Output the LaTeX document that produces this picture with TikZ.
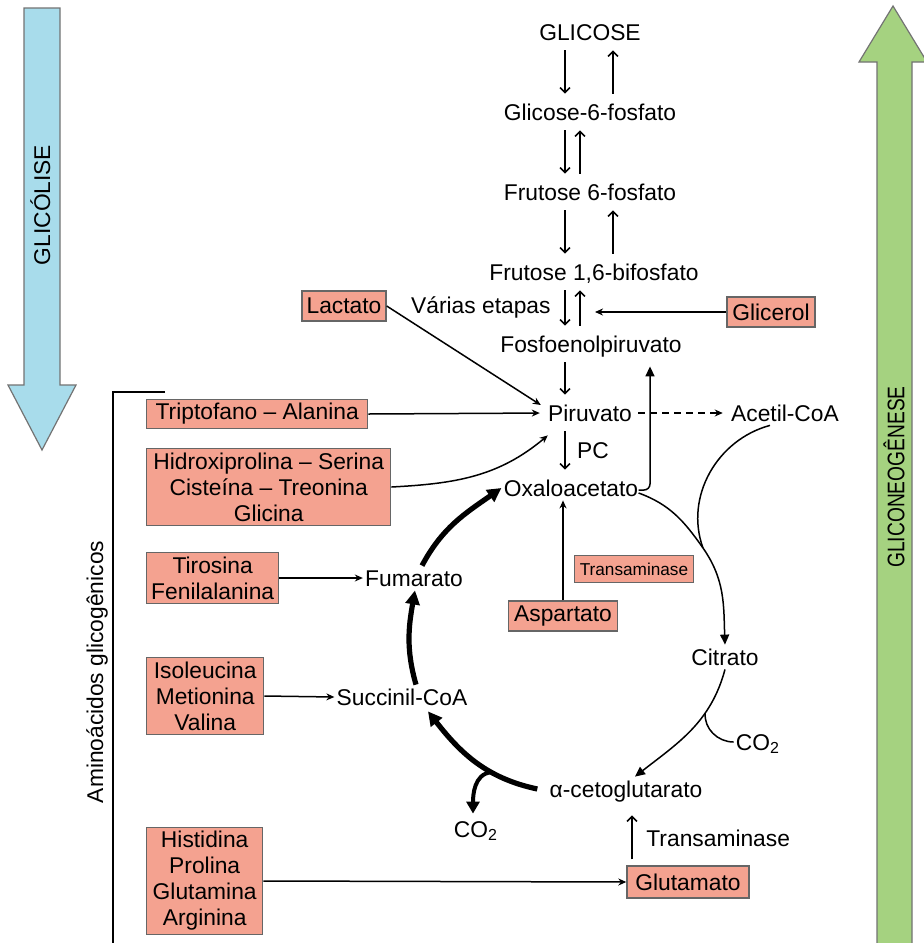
\documentclass[tikz,border=0pt]{standalone}
\usepackage{fontspec}
\setmainfont{Liberation Sans}
\newfontfamily\narrowsans[FakeStretch=0.8]{Liberation Sans}
\usetikzlibrary{arrows.meta,calc}

\definecolor{aafill}{HTML}{F4A290}
\definecolor{glyblue}{HTML}{A8DCEB}
\definecolor{neogreen}{HTML}{A5D280}

\tikzset{
  met/.style={font=\fontsize{11.4}{13}\selectfont,inner sep=1pt,text height=9pt,text depth=1pt},
  aabox/.style={draw=black!60,fill=aafill,line width=0.7pt,align=center,
    font=\fontsize{11.4}{13}\selectfont,inner xsep=2pt,inner ysep=2pt,minimum height=15pt},
  rxn/.style={line width=0.75pt,-{Stealth[length=4pt,width=3.5pt]}},
  rxnbig/.style={line width=0.75pt,-{Triangle[length=5pt,width=4.5pt]}},
  glyc/.style={line width=0.75pt,-{Straight Barb[length=2.5pt,width=5pt]},shorten <=3pt,shorten >=3pt},
  krebs/.style={line width=2.6pt,-{Triangle[length=7pt,width=7pt]}},
  bigarrow/.style={draw=black!55,line width=0.6pt}
}

\begin{document}
\begin{tikzpicture}[x=0.5pt,y=0.5pt,>=Stealth]
  \useasboundingbox[fill=white] (0,0) rectangle (923,-943);

  % side arrows
  \draw[bigarrow,fill=glyblue] (24,-8) -- (60,-8) -- (60,-385) -- (76,-385) -- (42,-450)
    -- (8,-385) -- (24,-385) -- cycle;
  \node[met,rotate=90] (glicolise) at (42,-205) {GLICÓLISE};
  \draw[bigarrow,fill=neogreen] (877,-950) -- (877,-62) -- (859,-62) -- (893,-6)
    -- (927,-62) -- (912,-62) -- (912,-950) -- cycle;
  \node[rotate=90,font=\narrowsans\fontsize{12}{14}\selectfont] (neolabel) at (894,-477) {GLICONEOGÊNESE};

  % metabolites
  \node[met] (glc) at (590,-32) {GLICOSE};
  \node[met] (g6p) at (590,-112) {Glicose-6-fosfato};
  \node[met] (f6p) at (590,-192) {Frutose 6-fosfato};
  \node[met] (f16) at (594,-272) {Frutose 1,6-bifosfato};
  \node[met] (pep) at (591,-344) {Fosfoenolpiruvato};
  \node[met,anchor=east] (varias) at (553,-305) {Várias etapas};
  \node[met] (pir) at (590,-413) {Piruvato};
  \node[met] (acoa) at (785,-413) {Acetil-CoA};
  \node[met] (pc) at (593,-450) {PC};
  \node[met] (oaa) at (571,-488) {Oxaloacetato};
  \node[met] (fum) at (414,-578) {Fumarato};
  \node[met] (scoa) at (402,-697) {Succinil-CoA};
  \node[met] (cit) at (725,-657) {Citrato};
  \node[met] (akg) at (626,-789) {α-cetoglutarato};
  \node[met] (co2cit) at (758,-742) {CO\textsubscript{2}};
  \node[met] (co2akg) at (476,-829) {CO\textsubscript{2}};
  \node[met,anchor=west] (transglu) at (644,-838) {Transaminase};

  % precursors
  \node[aabox,minimum width=42pt] (lac) at (344,-306) {Lactato};
  \node[aabox,minimum width=44pt] (gly) at (771,-312) {Glicerol};
  \node[aabox,anchor=west,minimum width=110.5pt,minimum height=13.5pt] (trp) at (146,-414) {Triptofano – Alanina};
  \node[aabox,anchor=west,minimum width=122pt] (hid) at (146,-487) {Hidroxiprolina – Serina\\Cisteína – Treonina\\Glicina};
  \node[aabox,anchor=west,minimum width=66pt] (tir) at (146,-578) {Tirosina\\Fenilalanina};
  \node[aabox,anchor=west,minimum width=58.5pt] (iso) at (146,-696) {Isoleucina\\Metionina\\Valina};
  \node[aabox,anchor=west,minimum width=58pt] (his) at (146,-881) {Histidina\\Prolina\\Glutamina\\Arginina};
  \node[aabox,minimum width=54.5pt] (asp) at (563,-616) {Aspartato};
  \node[aabox,minimum width=59.5pt,minimum height=13.5pt,font=\fontsize{8.6}{10}\selectfont] (transasp) at (634,-569) {Transaminase};
  \node[aabox,minimum width=61pt,minimum height=16pt] (glu) at (688,-882) {Glutamato};

  % glycolysis and its reverse
  \coordinate (dn) at (565,0);
  \coordinate (upw) at (613,0);
  \coordinate (upn) at (580,0);
  \foreach \a/\b/\u in {glc/g6p/upw,g6p/f6p/upn,f6p/f16/upw,f16/pep/upn}{
    \draw[glyc] (\a.south -| dn) -- (\b.north -| dn);
    \draw[glyc] (\b.north -| \u) -- (\a.south -| \u);
  }
  \draw[glyc] (pep.south -| dn) -- (pir.north -| dn);
  \draw[glyc] (pir.south -| dn) -- (oaa.north -| dn);

  \coordinate (glyend) at (595,-312);
  \draw[rxn] (gly.west) -- (glyend);
  \draw[rxn] (lac.east) -- ($(pir.west)+(-5,8)$);
  \draw[rxn,shorten >=3pt] (trp.east) -- (pir.west);
  \draw[rxn] (hid.east) to[out=3,in=-140] ($(pir.south west)+(2,-10)$);
  \draw[rxn,dashed,dash pattern=on 3.5pt off 2.5pt,shorten <=2pt,shorten >=3pt] (pir.east) -- (acoa.west);

  % oxaloacetate back to PEP
  \coordinate (upx) at (650,0);
  \draw[rxnbig,rounded corners=3pt] ($(oaa.east)+(-2,-2)$) -| ($(pep.south -| upx)+(0,-10)$);

  % cycle
  \coordinate (merge) at (703,-548);
  \draw[line width=0.75pt] ($(oaa.east)+(-2,-5)$) to[out=-20,in=125] (merge);
  \draw[line width=0.75pt] ($(acoa.south)+(-15,0)$) to[out=195,in=110] (merge);
  \draw[rxnbig] (merge) to[out=-55,in=92] (cit.north);
  \draw[rxnbig] (cit.south) to[out=-105,in=38] coordinate[pos=0.33] (brc) ($(akg.north)+(9,0)$);
  \draw[line width=0.75pt] (brc) to[out=-95,in=180] (co2cit.west);

  \draw[krebs] ($(akg.west)+(-10,0)$) to[out=168,in=-52] coordinate[pos=0.35] (brk) ($(scoa.south)+(26,-2)$);
  \draw[line width=2pt,-{Triangle[length=6pt,width=6.5pt]}] (brk) to[out=185,in=90] ($(co2akg.north)+(-3,3)$);
  \draw[krebs] ($(scoa.north)+(14,0)$) to[out=106,in=-100] ($(fum.south)+(1,0)$);
  \draw[krebs] ($(fum.north)+(8,0)$) to[out=62,in=-145] (oaa.west);

  % amino acids feeding in
  \draw[rxn] (tir.east) -- (fum.west);
  \draw[rxn] (iso.east) -- (scoa.west);
  \draw[rxn] (his.east) -- (glu.west);
  \draw[rxn] (asp.north) -- (asp.north |- oaa.south);
  \coordinate (tx) at (632,0);
  \draw[glyc,shorten >=7pt] (glu.north -| tx) -- (akg.south -| tx);

  \draw[line width=0.6pt] (165,-392) -- (113,-392) -- (113,-943);
  \node[met,rotate=90] (aalabel) at (95,-672) {Aminoácidos glicogênicos};
\end{tikzpicture}
\end{document}
